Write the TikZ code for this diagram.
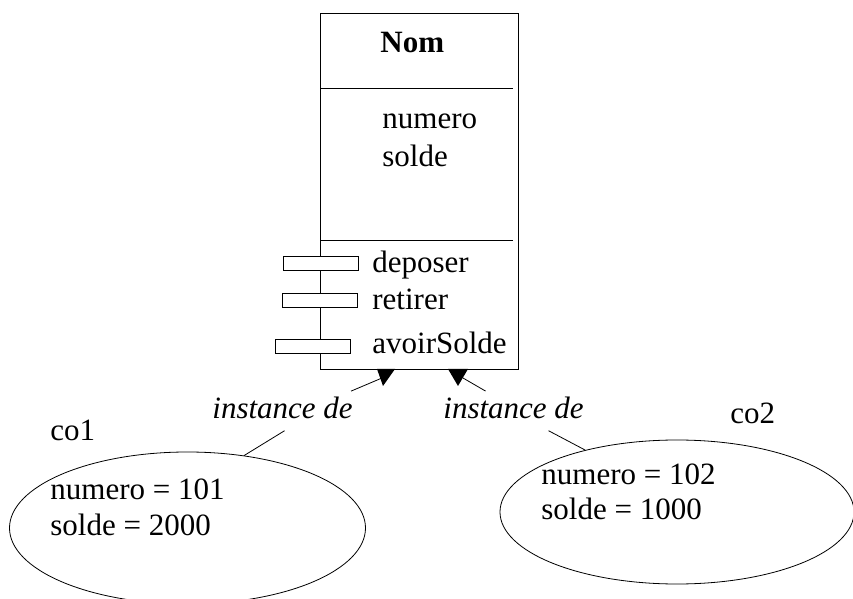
\documentclass[tikz,border=0pt]{standalone}
\usepackage{fontspec}
\setmainfont{Liberation Serif}
\usetikzlibrary{positioning,shapes.geometric}

\begin{document}
\begin{tikzpicture}[
    x=0.5pt, y=-0.5pt,
    font=\fontsize{15.5}{18}\selectfont,
    classe/.style={draw,minimum width=99pt,minimum height=178pt,inner sep=0pt},
    methode/.style={draw,minimum width=37.5pt,minimum height=7pt,inner sep=0pt},
    txt/.style={anchor=base west,inner sep=0pt},
    objet/.style={draw,ellipse,inner sep=0pt}
]
    \useasboundingbox (0,0) rectangle (853,599);

    % Class box
    \node[classe] (cls) at (419,191) {};
    \draw (320,88) -- (513,88);
    \draw (320,240) -- (513,240);
    \node[txt] (nom) at (380,53) {\textbf{Nom}};
    \node[txt] (numero) at (382,129) {numero};
    \node[txt] (solde) at (382,167) {solde};

    % Methods
    \node[methode,fill=white] (m1) at (320.5,263.5) {};
    \node[methode,fill=white] (m2) at (320,300.5) {};
    \node[methode,fill=white] (m3) at (312.5,346.5) {};
    \node[txt] (deposer) at (372,272) {deposer};
    \node[txt] (retirer) at (372,310) {retirer};
    \node[txt] (avoir) at (372,354) {avoirSolde};

    % Objects
    \node[objet,minimum width=178pt,minimum height=76pt] (obj1) at (187.5,528) {};
    \node[objet,minimum width=177pt,minimum height=72pt] (obj2) at (677,512) {};
    \node[txt] (co1) at (50,440) {co1};
    \node[txt] (co2) at (730,423) {co2};
    \node[txt] (num1) at (50,499) {numero = 101};
    \node[txt] (sol1) at (50,535) {solde = 2000};
    \node[txt] (num2) at (541,484) {numero = 102};
    \node[txt] (sol2) at (541,519) {solde = 1000};

    % instance de
    \node[txt] (inst1) at (212,418) {\textit{instance de}};
    \node[txt] (inst2) at (443,418) {\textit{instance de}};
    \coordinate (p1) at (382,378);
    \coordinate (p2) at (463,378);
    \fill (377,369) -- (395,369) -- (383,386) -- cycle;
    \fill (448,369) -- (468,369) -- (458,386) -- cycle;
    \draw ([xshift=-1pt,yshift=2.5pt]inst1.north east) -- (p1);
    \draw ([xshift=-14pt,yshift=2.5pt]inst2.north) -- (p2);
    \draw ([xshift=1pt,yshift=-6pt]inst1.south) -- (obj1.52);
    \draw ([xshift=17.5pt,yshift=-6pt]inst2.south) -- (obj2.146);
\end{tikzpicture}
\end{document}
